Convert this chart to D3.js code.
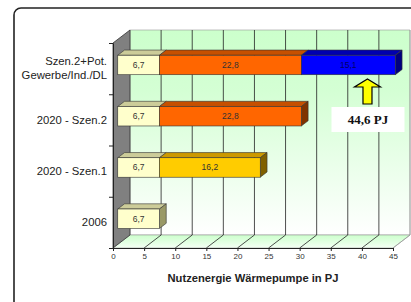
<!DOCTYPE html>
<html>
<head>
<meta charset="utf-8">
<script src="https://cdn.jsdelivr.net/npm/d3@7"></script>
<style>
body { margin: 0; background: #fff; }
svg { display: block; font-family: Arial, "Liberation Sans", sans-serif; }
</style>
</head>
<body>
<script>
// Kategorien von oben nach unten
var kategorien = ["Szen.2+Pot.|Gewerbe/Ind./DL", "2020 - Szen.2", "2020 - Szen.1", "2006"];
var bestand = [6.7, 6.7, 6.7, 6.7];
var szen1 = [0, 0, 16.2, 0];
var szen2 = [22.8, 22.8, 0, 0];
var potenzial = [15.1, 0, 0, 0];
var xTicks = [0, 5, 10, 15, 20, 25, 30, 35, 40, 45];
var titelX = "Nutzenergie Wärmepumpe in PJ";

var serien = [
  {werte: bestand,   front: "#ffffcc", top: "#cccc99", side: "#999966", text: "#333"},
  {werte: szen1,     front: "#ffcc00", top: "#cc9900", side: "#806000", text: "#333"},
  {werte: szen2,     front: "#ff6600", top: "#c65000", side: "#803300", text: "#333"},
  {werte: potenzial, front: "#0000ff", top: "#0000b0", side: "#000080", text: "#000066"}
];

var W = 411, H = 302;
var DX = 17, DY = 13;      // Tiefe der Wand
var z0 = 0.28, z1 = 0.68;  // Tiefe der Balken

var svg = d3.select("body").append("svg").attr("width", W).attr("height", H);

// Rahmen
svg.append("rect").attr("x", 14).attr("y", 8).attr("width", 430).attr("height", 330)
  .attr("rx", 7).attr("fill", "#fff").attr("stroke", "#222").attr("stroke-width", 1.6);

var x = d3.scaleLinear().domain([0, 45]).range([113, 393]);
var y = d3.scaleBand().domain(kategorien).range([43, 248]).paddingInner(0.62).paddingOuter(0.31);
var yTop = 43, yBot = 248;

function P(v, py, z) { return [x(v) + z * DX, py - z * DY]; }
function poly(pts) { return pts.map(function(p) { return p.join(","); }).join(" "); }

var defs = svg.append("defs");
var gWall = defs.append("linearGradient").attr("id", "wall").attr("x1", 0).attr("y1", 0).attr("x2", 0).attr("y2", 1);
gWall.append("stop").attr("offset", "0%").attr("stop-color", "#ccffcc");
gWall.append("stop").attr("offset", "30%").attr("stop-color", "#d4ffd4");
gWall.append("stop").attr("offset", "100%").attr("stop-color", "#ffffff");
var gFloor = defs.append("linearGradient").attr("id", "floor").attr("x1", 0).attr("y1", 0).attr("x2", 0).attr("y2", 1);
gFloor.append("stop").attr("offset", "0%").attr("stop-color", "#ccffcc");
gFloor.append("stop").attr("offset", "100%").attr("stop-color", "#f4fff4");

// Rueckwand
svg.append("polygon")
  .attr("points", poly([P(0, yTop, 1), P(45, yTop, 1), P(45, yBot, 1), P(0, yBot, 1)]))
  .attr("fill", "url(#wall)").attr("stroke", "#999").attr("stroke-width", 0.6);

// Boden
svg.append("polygon")
  .attr("points", poly([P(0, yBot, 0), P(45, yBot, 0), P(45, yBot, 1), P(0, yBot, 1)]))
  .attr("fill", "url(#floor)").attr("stroke", "#999").attr("stroke-width", 0.6);

// Gitterlinien
xTicks.slice(1).forEach(function(t) {
  var a = P(t, yBot, 0), b = P(t, yBot, 1), c = P(t, yTop, 1);
  svg.append("polyline").attr("points", poly([a, b, c]))
    .attr("fill", "none").attr("stroke", t === 45 ? "#999" : "#222").attr("stroke-width", 0.8);
});

// Seitenwand
svg.append("polygon")
  .attr("points", poly([P(0, yTop, 0), P(0, yTop, 1), P(0, yBot, 1), P(0, yBot, 0)]))
  .attr("fill", "#808080").attr("stroke", "#333").attr("stroke-width", 0.8);

// Balken
kategorien.forEach(function(k, i) {
  var y0 = y(k), y1 = y(k) + y.bandwidth();
  var start = 0;
  var letzte = -1;
  serien.forEach(function(s, j) { if (s.werte[i] > 0) letzte = j; });
  serien.forEach(function(s, j) {
    var v = s.werte[i];
    if (!(v > 0)) return;
    var a = start, b = start + v;
    var g = svg.append("g");
    g.append("polygon")
      .attr("points", poly([P(a, y0, z0), P(b, y0, z0), P(b, y0, z1), P(a, y0, z1)]))
      .attr("fill", s.top).attr("stroke", "#333").attr("stroke-width", 0.6);
    if (j === letzte) {
      g.append("polygon")
        .attr("points", poly([P(b, y0, z0), P(b, y0, z1), P(b, y1, z1), P(b, y1, z0)]))
        .attr("fill", s.side).attr("stroke", "#333").attr("stroke-width", 0.6);
    }
    var f0 = P(a, y0, z0), f1 = P(b, y1, z0);
    g.append("rect").attr("x", f0[0]).attr("y", f0[1])
      .attr("width", f1[0] - f0[0]).attr("height", f1[1] - f0[1])
      .attr("fill", s.front).attr("stroke", "#333").attr("stroke-width", 0.6);
    g.append("text").attr("x", (f0[0] + f1[0]) / 2).attr("y", (f0[1] + f1[1]) / 2)
      .attr("text-anchor", "middle").attr("dominant-baseline", "central")
      .attr("font-size", "8.5px").attr("fill", s.text)
      .text(d3.format(".1f")(v).replace(".", ","));
    start = b;
  });
});

// x-Achse
var xAxis = svg.append("g").attr("transform", "translate(0," + yBot + ")")
  .call(d3.axisBottom(x).tickValues(xTicks).tickSize(3).tickSizeOuter(0).tickPadding(2));
xAxis.select(".domain").attr("stroke", "#222");
xAxis.selectAll(".tick line").attr("stroke", "#222");
xAxis.selectAll("text").attr("font-size", "8px").attr("fill", "#333").attr("font-family", "Arial, 'Liberation Sans', sans-serif");

// y-Achse (Striche an den Grenzen)
var yLin = d3.scaleLinear().domain([0, kategorien.length]).range([yBot, yTop]);
var yAxis = svg.append("g").attr("transform", "translate(" + x(0) + ",0)")
  .call(d3.axisLeft(yLin).tickValues(d3.range(kategorien.length + 1)).tickFormat("").tickSize(4).tickSizeOuter(0));
yAxis.select(".domain").attr("stroke", "#222");
yAxis.selectAll(".tick line").attr("stroke", "#222");

var yLab = svg.append("g").attr("transform", "translate(" + x(0) + ",0)")
  .call(d3.axisLeft(y).tickSize(0).tickPadding(6));
yLab.select(".domain").remove();
yLab.selectAll("text").attr("font-size", "11.3px").attr("fill", "#222")
  .attr("font-family", "Arial, 'Liberation Sans', sans-serif")
  .each(function(d) {
    var zeilen = d.split("|");
    if (zeilen.length < 2) return;
    var t = d3.select(this).text(null);
    zeilen.forEach(function(z, n) {
      t.append("tspan").attr("x", -6).attr("dy", n === 0 ? "-0.35em" : "1.25em").text(z);
    });
  });

// Achsentitel
svg.append("text").attr("x", (x(0) + x(45)) / 2).attr("y", 282)
  .attr("text-anchor", "middle").attr("font-size", "11.2px").attr("font-weight", "bold")
  .attr("fill", "#222").text(titelX);

// Hinweis: Pfeil und Summe
var summe = d3.sum(serien, function(s) { return s.werte[0]; });
var ax = x(40.9);
svg.append("polygon")
  .attr("points", poly([[ax, 79], [ax + 13, 87], [ax + 4.5, 87], [ax + 4.5, 104], [ax - 4.5, 104], [ax - 4.5, 87], [ax - 13, 87]]))
  .attr("fill", "#ffff00").attr("stroke", "#000").attr("stroke-width", 1.2);
svg.append("rect").attr("x", ax - 36).attr("y", 107).attr("width", 73).attr("height", 25).attr("fill", "#fff");
svg.append("text").attr("x", ax + 0.5).attr("y", 124)
  .attr("text-anchor", "middle").attr("font-family", "'Liberation Serif', 'Times New Roman', serif")
  .attr("font-size", "13px").attr("font-weight", "bold").attr("fill", "#111")
  .text(d3.format(".1f")(summe).replace(".", ",") + " PJ");
</script>
</body>
</html>
